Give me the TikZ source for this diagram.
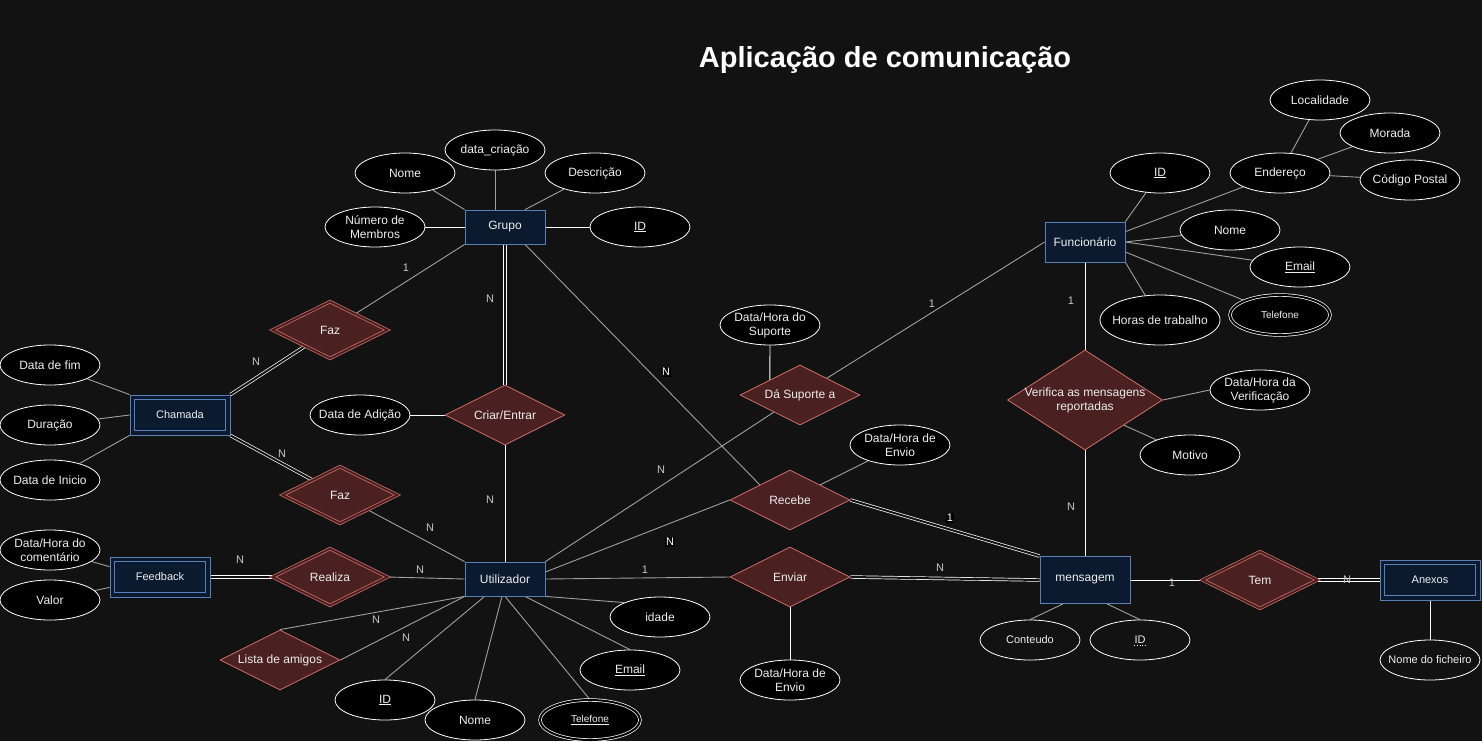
\documentclass[tikz,border=0pt]{standalone}
\usepackage{fontspec}
\setmainfont{Liberation Sans}
\usetikzlibrary{shapes.geometric,calc}
\definecolor{bg}{HTML}{121212}
\definecolor{entfill}{HTML}{0B1A2E}
\definecolor{entdraw}{HTML}{5A80B8}
\definecolor{relfill}{HTML}{4A2020}
\definecolor{reldraw}{HTML}{D0706A}
\definecolor{txt}{HTML}{EEEEEE}
\definecolor{lgray}{HTML}{A0A0A0}
\definecolor{card}{HTML}{C8C8C8}
\pgfdeclarelayer{back}
\pgfdeclarelayer{edges}
\pgfsetlayers{back,edges,main}
\tikzset{
  every node/.style={text=txt, font=\fontsize{12}{14}\selectfont},
  entity/.style={rectangle, draw=entdraw, fill=entfill, line width=0.8pt, minimum width=80pt, minimum height=34pt, inner sep=0pt},
  weakent/.style={entity, minimum width=100pt, minimum height=40pt, font=\fontsize{11}{13}\selectfont},
  attr/.style={ellipse, draw=white, fill=black, line width=0.8pt, minimum width=100pt, minimum height=40pt, inner sep=0pt},
  relshape/.style={diamond, draw=reldraw, fill=relfill, line width=0.8pt, minimum width=120pt, minimum height=60pt, inner sep=0pt},
  dblrel/.style={relshape, double=relfill, double distance=2pt, line width=0.7pt, minimum width=115pt, minimum height=57pt},
  conn/.style={draw=lgray, line width=0.9pt},
  wconn/.style={draw=white, line width=0.9pt},
  dbl/.style={draw=white, double=bg, double distance=2pt, line width=0.7pt},
  card/.style={text=card, font=\fontsize{11}{13}\selectfont, inner sep=1pt},
  bcard/.style={card, text=white, fill=black}
}
\newcommand\myattr[4][]{\node[attr,#1] (#2) at (#3) {}; \node[align=center] at (#2.center) {#4};}
\newcommand\myrel[4][]{\node[relshape,#1] (#2) at (#3) {}; \node[align=center] at (#2.center) {#4};}
\newcommand\innerbox[1]{\draw[draw=entdraw, line width=0.8pt] ([shift={(5pt,-5pt)}]#1.north west) rectangle ([shift={(-5pt,5pt)}]#1.south east);}
\begin{document}
\begin{tikzpicture}[x=1pt,y=-1pt]
\begin{pgfonlayer}{back}
\fill[bg] (0,0) rectangle (1482,741);
\end{pgfonlayer}
\useasboundingbox (0,0) rectangle (1482,741);

\node[text=white, font=\bfseries\fontsize{29}{33}\selectfont] (title) at (885,60) {Aplicação de comunicação};

% Grupo
\node[entity] (grupo) at (505,227) {Grupo};
\myattr{gnome}{405,173}{Nome}
\myattr{gdata}{495,150}{data\_criação}
\myattr{gdesc}{595,173}{Descrição}
\myattr{gnum}{375,227}{Número de\\Membros}
\myattr{gid}{640,227}{\underline{ID}}

% Chamada
\node[weakent] (chamada) at (180,415) {Chamada};
\innerbox{chamada}
\myattr{dfim}{50,365}{Data de fim}
\myattr{dur}{50,425}{Duração}
\myattr{dini}{50,480}{Data de Inicio}
\myrel[dblrel]{faz1}{330,330}{Faz}
\myrel[dblrel]{faz2}{340,495}{Faz}

% Criar/Entrar
\myrel{criar}{505,415}{Criar/Entrar}
\myattr{dadic}{360,415}{Data de Adição}

% Utilizador
\node[entity] (util) at (505,579) {Utilizador};
\myrel[dblrel]{realiza}{330,577}{Realiza}
\node[weakent] (feedback) at (160,577) {Feedback};
\innerbox{feedback}
\myattr{fdh}{50,550}{Data/Hora do\\comentário}
\myattr{valor}{50,600}{Valor}
\myrel{lista}{280,660}{Lista de amigos}
\myattr{uid}{385,700}{\underline{ID}}
\myattr{unome}{475,720}{Nome}
\myattr[double=black, double distance=2pt, line width=0.7pt]{utel}{590,720}{\fontsize{10}{12}\selectfont\underline{Telefone}}
\myattr{uemail}{630,670}{\underline{Email}}
\myattr{uidade}{660,617}{idade}

% Enviar / Recebe / Suporte
\myrel{enviar}{790,577}{Enviar}
\myattr{edh}{790,680}{Data/Hora de\\Envio}
\myrel{recebe}{790,500}{Recebe}
\myattr{rdh}{900,445}{Data/Hora de\\Envio}
\myrel{dsup}{800,395}{Dá Suporte a}
\myattr{dsdh}{770,325}{Data/Hora do\\Suporte}

% Funcionario
\node[entity, minimum height=40pt] (func) at (1085,242) {Funcionário};
\myattr{fid}{1160,173}{\underline{ID}}
\myattr{ender}{1280,173}{Endereço}
\myattr{loc}{1320,100}{Localidade}
\myattr{morada}{1390,133}{Morada}
\myattr{cpost}{1410,180}{Código Postal}
\myattr{fnome}{1230,230}{Nome}
\myattr{femail}{1300,267}{\underline{Email}}
\myattr[double=black, double distance=2pt, line width=0.7pt]{ftel}{1280,315}{\fontsize{10}{12}\selectfont Telefone}
\myattr[minimum width=120pt, minimum height=50pt]{fhoras}{1160,320}{Horas de trabalho}

% Verifica
\myrel[minimum width=155pt, minimum height=100pt]{verif}{1085,400}{Verifica as mensagens\\reportadas}
\myattr{vdh}{1260,390}{Data/Hora da\\Verificação}
\myattr{motivo}{1190,455}{Motivo}

% mensagem
\node[entity, minimum width=90pt, minimum height=47pt] (mens) at (1085,580) {mensagem};
\myattr[fill=bg]{cont}{1030,640}{\fontsize{11}{13}\selectfont Conteudo}
\node[attr, fill=bg] (mid) at (1140,640) {};
\node[inner sep=0pt, font=\fontsize{11}{13}\selectfont] (midt) at (mid.center) {ID};
\draw[white, dotted, line width=0.6pt] ([yshift=-1pt]midt.south west) -- ([yshift=-1pt]midt.south east);
\myrel[dblrel]{tem}{1260,580}{Tem}
\node[weakent] (anexos) at (1430,580) {Anexos};
\innerbox{anexos}
\myattr[fill=bg]{nfich}{1430,660}{\fontsize{11}{13}\selectfont Nome do ficheiro}

\begin{pgfonlayer}{edges}
% Grupo attributes
\draw[conn] (gnome) -- (grupo.north west);
\draw[conn] (gdata.south) -- (gdata.south |- grupo.north);
\draw[conn] (gdesc) -- ([xshift=20pt]grupo.north);
\draw[wconn] (gnum.east) -- (grupo.west);
\draw[wconn] (grupo.east) -- (gid.west);
% Grupo relations
\draw[conn] (grupo.south west) -- (faz1);
\draw[dbl] (grupo.south) -- (criar.north);
\draw[conn] ([xshift=20pt]grupo.south) -- ($(recebe.west)!0.5!(recebe.north)$);
% Chamada
\draw[dbl] (chamada.north east) -- (faz1);
\draw[dbl] (chamada.south east) -- (faz2);
\draw[conn] (faz2) -- (util.north west);
\draw[conn] (dfim) -- (chamada.north west);
\draw[conn] (dur) -- (chamada.west);
\draw[conn] (dini) -- (chamada.south west);
% Criar
\draw[wconn] (criar.south) -- (util.north);
\draw[wconn] (dadic.east) -- (criar.west);
% Realiza / Feedback
\draw[conn] (realiza.east) -- (util.west);
\draw[dbl] (feedback.east) -- (realiza.west);
\draw[conn] (fdh) -- ([yshift=-10pt]feedback.north west);
\draw[conn] (valor) -- ([yshift=10pt]feedback.south west);
% Lista de amigos
\draw[conn] (lista.north) -- (util.south west);
\draw[conn] (lista.east) -- (util.south west);
% Utilizador attributes
\draw[conn] (uid.north) -- ([xshift=20pt]util.south west);
\draw[conn] (unome.north) -- ([xshift=-3pt]util.south);
\draw[conn] (utel.north) -- (util.south);
\draw[conn] (uemail.north) -- ([xshift=20pt]util.south);
\draw[conn] (util.south east) -- (uidade.north west);
% Enviar / Recebe / Suporte
\draw[conn] (util.east) -- (enviar.west);
\draw[dbl] (enviar.east) -- (mens.west);
\draw[wconn] (enviar.south) -- (edh.north);
\draw[conn] ([yshift=7pt]util.east) -- (recebe.west);
\draw[dbl] (recebe.east) -- (mens.north west);
\draw[conn] ($(recebe.north)!0.5!(recebe.east)$) -- (rdh);
\draw[conn] (util.north east) -- (dsup);
\draw[conn] (dsup) -- (func.west);
\draw[wconn] (dsdh.south) -- ($(dsup.west)!0.5!(dsup.north)$);
% Funcionario
\draw[conn] (fid) -- (func.north east);
\draw[conn] ([yshift=-10pt]func.north east) -- (ender);
\draw[conn] (func.east) -- (fnome);
\draw[conn] (func.east) -- (femail);
\draw[conn] ([yshift=-10pt]func.east) -- (ftel);
\draw[conn] (func.south east) -- (fhoras);
\draw[conn] (ender) -- (loc);
\draw[conn] (ender) -- (morada);
\draw[conn] (ender) -- (cpost);
% Verifica
\draw[wconn] (func.south) -- (verif.north);
\draw[wconn] (verif.south) -- (mens.north);
\draw[conn] (verif.east) -- (vdh.west);
\draw[conn] ($(verif.east)!0.5!(verif.south)$) -- (motivo);
% mensagem
\draw[conn] ([xshift=-22pt]mens.south) -- (cont.north);
\draw[conn] ([xshift=22pt]mens.south) -- (mid.north);
\draw[wconn] (mens.east) -- (tem.west);
\draw[dbl] (tem.east) -- (anexos.west);
\draw[wconn] (anexos.south) -- (nfich.north);
\end{pgfonlayer}

% cardinalities
\node[card] (c1) at (406,268) {1};
\node[card] (c2) at (490,299) {N};
\node[card] (c3) at (256,362) {N};
\node[card] (c4) at (282,454) {N};
\node[card] (c5) at (490,500) {N};
\node[card] (c6) at (430,528) {N};
\node[card] (c7) at (240,560) {N};
\node[card] (c8) at (420,570) {N};
\node[card] (c9) at (376,620) {N};
\node[card] (c10) at (406,638) {N};
\node[card] (c11) at (645,570) {1};
\node[card] (c12) at (661,470) {N};
\node[bcard] (c13) at (670,542) {N};
\node[bcard] (c14) at (666,372) {N};
\node[bcard] (c15) at (950,518) {1};
\node[card] (c16) at (940,568) {N};
\node[card] (c17) at (932,304) {1};
\node[card] (c18) at (1071,301) {1};
\node[card] (c19) at (1071,507) {N};
\node[card] (c20) at (1172,583) {1};
\node[card] (c21) at (1347,580) {N};
\end{tikzpicture}
\end{document}
